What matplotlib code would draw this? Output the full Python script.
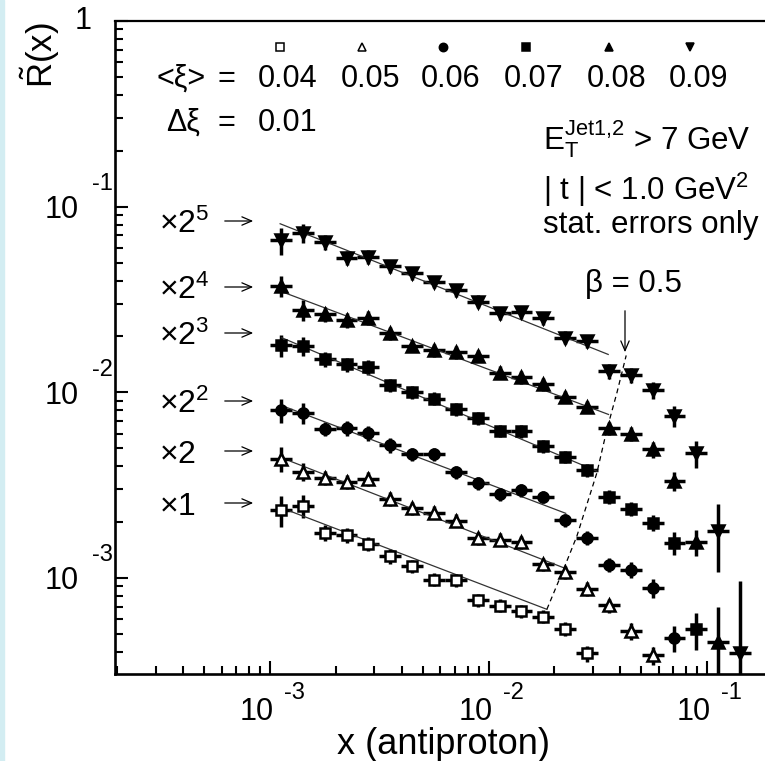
import numpy as np
import matplotlib
matplotlib.use('Agg')
import matplotlib.pyplot as plt
from matplotlib.lines import Line2D
from matplotlib.patches import Rectangle

plt.rcParams['font.family'] = ['Liberation Sans', 'DejaVu Sans']
plt.rcParams['mathtext.fontset'] = 'custom'
plt.rcParams['mathtext.rm'] = 'Liberation Sans'
plt.rcParams['mathtext.it'] = 'Liberation Sans:italic'
plt.rcParams['mathtext.sf'] = 'Liberation Sans'

# bin edges in x (antiproton), ten bins per decade
x_edges = [0.00100, 0.00126, 0.00158, 0.00200, 0.00251, 0.00316, 0.00398, 0.00501,
           0.00631, 0.00794, 0.0100, 0.0126, 0.0158, 0.0200, 0.0251, 0.0316,
           0.0398, 0.0501, 0.0631, 0.0794, 0.100, 0.126, 0.158]

xi_labels = ['0.04', '0.05', '0.06', '0.07', '0.08', '0.09']
scale_labels = ['1', '2', '2^{2}', '2^{3}', '2^{4}', '2^{5}']
markers = ['s', '^', 'o', 's', '^', 'v']
filled = [False, False, True, True, True, True]

# R~(x) as drawn (already multiplied by the factor of each row)
r_x1 = [2.31e-3, 2.44e-3, 1.75e-3, 1.70e-3, 1.53e-3, 1.31e-3, 1.16e-3, 9.8e-4,
        9.75e-4, 7.6e-4, 7.1e-4, 6.63e-4, 6.19e-4, 5.33e-4, 3.93e-4]
r_x2 = [4.39e-3, 3.73e-3, 3.47e-3, 3.30e-3, 3.43e-3, 2.67e-3, 2.38e-3, 2.25e-3,
        2.04e-3, 1.64e-3, 1.61e-3, 1.56e-3, 1.19e-3, 1.08e-3, 8.75e-4, 7.11e-4,
        5.18e-4, 3.83e-4]
r_x4 = [8.02e-3, 7.76e-3, 6.37e-3, 6.39e-3, 6.01e-3, 5.20e-3, 4.66e-3, 4.63e-3,
        3.72e-3, 3.23e-3, 2.82e-3, 2.97e-3, 2.74e-3, 2.05e-3, 1.65e-3, 1.18e-3,
        1.11e-3, 8.87e-4, 4.77e-4]
r_x8 = [1.796e-2, 1.774e-2, 1.504e-2, 1.413e-2, 1.367e-2, 1.089e-2, 1.005e-2,
        9.24e-3, 8.09e-3, 7.26e-3, 6.21e-3, 6.18e-3, 5.13e-3, 4.50e-3, 3.81e-3,
        2.74e-3, 2.36e-3, 1.99e-3, 1.55e-3, 5.29e-4]
r_x16 = [3.73e-2, 2.79e-2, 2.63e-2, 2.45e-2, 2.52e-2, 2.08e-2, 1.782e-2, 1.682e-2,
         1.640e-2, 1.574e-2, 1.276e-2, 1.211e-2, 1.103e-2, 9.47e-3, 8.36e-3,
         6.39e-3, 5.98e-3, 4.93e-3, 3.33e-3, 1.56e-3, 4.52e-4]
r_x32 = [6.60e-2, 7.23e-2, 6.44e-2, 5.31e-2, 5.37e-2, 4.77e-2, 4.38e-2, 3.94e-2,
         3.56e-2, 3.08e-2, 2.68e-2, 2.70e-2, 2.52e-2, 1.97e-2, 1.89e-2, 1.30e-2,
         1.233e-2, 1.028e-2, 7.45e-3, 4.69e-3, 1.79e-3, 3.93e-4]

# relative stat. errors, percent
e_x1 = [19, 14, 10, 9, 9, 9, 8, 8, 8, 8, 8, 8, 8, 9, 10]
e_x2 = [15, 11, 9, 9, 9, 9, 8, 8, 8, 8, 8, 8, 8, 8, 9, 9, 10, 11]
e_x4 = [15, 13, 9, 9, 9, 9, 8, 8, 8, 8, 8, 8, 8, 8, 9, 9, 10, 12, 16]
e_x8 = [14, 12, 9, 9, 9, 8, 8, 8, 8, 8, 8, 8, 8, 8, 8, 9, 9, 10, 14, 23]
e_x16 = [13, 13, 9, 9, 9, 8, 8, 8, 8, 8, 8, 8, 8, 8, 8, 8, 9, 10, 12, 16, 54]
e_x32 = [17, 12, 9, 9, 9, 8, 8, 8, 8, 8, 8, 8, 8, 8, 8, 9, 9, 10, 13, 17, 40, 145]

# power-law fits (beta < 0.5): start and end points
fit_x0 = [1.234e-3, 1.234e-3, 1.147e-3, 1.131e-3, 1.111e-3, 1.111e-3]
fit_x1 = [1.846e-2, 2.200e-2, 2.252e-2, 3.128e-2, 3.534e-2, 3.523e-2]
fit_y0 = [2.291e-3, 4.26e-3, 8.43e-3, 1.968e-2, 3.51e-2, 8.09e-2]
fit_y1 = [6.78e-4, 1.136e-3, 2.23e-3, 3.76e-3, 7.60e-3, 1.600e-2]

# beta = 0.5 boundary
beta_x = [1.846e-2, 2.200e-2, 2.533e-2, 3.128e-2, 3.475e-2, 3.862e-2, 4.258e-2]
beta_y = [6.78e-4, 1.112e-3, 1.682e-3, 3.69e-3, 6.31e-3, 9.95e-3, 1.58e-2]

series = [(r_x1, e_x1), (r_x2, e_x2), (r_x4, e_x4),
          (r_x8, e_x8), (r_x16, e_x16), (r_x32, e_x32)]

W, H = 765, 761
fig = plt.figure(figsize=(W / 100, H / 100), dpi=100)
fig.patch.set_facecolor('white')
fig.add_artist(Rectangle((0, 0), 4 / W, 1, transform=fig.transFigure,
                         color='#d3edf2', zorder=0))


def fp(x, y):
    # picture pixels -> figure fraction
    return x / W, 1 - y / H


ax = fig.add_axes([115 / W, 1 - 674 / H, (773 - 115) / W, (674 - 21) / H])
ax.set_xscale('log')
ax.set_yscale('log')

edges = np.array(x_edges)
centers = np.sqrt(edges[:-1] * edges[1:])

for i, (r, e) in enumerate(series):
    n = len(r)
    xc = centers[:n]
    y = np.array(r)
    err = y * np.array(e) / 100.0
    lo = np.minimum(err, 0.999 * y)
    ax.errorbar(xc, y, xerr=[xc - edges[:n], edges[1:n + 1] - xc], yerr=[lo, err],
                fmt='none', ecolor='black', elinewidth=2.5, capsize=0, zorder=2)
    ax.plot(xc, y, ls='none', marker=markers[i], ms=8.2 if markers[i] in '^v' else 7.3,
            mfc='black' if filled[i] else 'white', mec='black', mew=1.8, zorder=4)
    ax.plot([fit_x0[i], fit_x1[i]], [fit_y0[i], fit_y1[i]], color='#333333',
            lw=0.9, zorder=3)

ax.plot(beta_x, beta_y, color='black', lw=0.9, ls=(0, (4, 3)), zorder=3)

ax.set_xlim(1.95e-4, 0.2)
ax.set_ylim(3.04e-4, 1)

ax.tick_params(which='both', direction='in', top=False, right=False,
               labelbottom=False, labelleft=False, color='black')
ax.tick_params(which='major', length=9.5, width=1.5)
ax.tick_params(which='minor', length=5.5, width=1.5)
ax.spines['right'].set_visible(False)
ax.spines['top'].set_linewidth(1.6)
ax.spines['left'].set_linewidth(1.9)
ax.spines['bottom'].set_linewidth(1.9)

# tick labels, ROOT style: "10" with raised exponent
for tick_px, ex in [(270, '-3'), (488.5, '-2'), (707, '-1')]:
    fig.text(*fp(tick_px - 13, 712), '10', ha='center', va='center', fontsize=22)
    fig.text(*fp(tick_px + 14, 693), ex, ha='left', va='center', fontsize=17)
for tick_px, ex in [(207, '-1'), (392.5, '-2'), (578, '-3')]:
    fig.text(*fp(62, tick_px + 3), '10', ha='center', va='center', fontsize=22)
    fig.text(*fp(92, tick_px - 23), ex, ha='left', va='center', fontsize=17)
fig.text(*fp(83, 21), '1', ha='center', va='center', fontsize=22)

fig.text(*fp(443, 744), 'x (antiproton)', ha='center', va='center', fontsize=26)
fig.text(*fp(40, 22), r'$\tilde{\mathrm{R}}\mathrm{(x)}$', ha='center', va='top',
         rotation=90, fontsize=25)

# <xi> row with marker key
fig.text(*fp(157, 87), '<ξ>', ha='left', va='baseline', fontsize=22)
fig.text(*fp(226, 87), '=', ha='center', va='baseline', fontsize=22)
fig.text(*fp(166, 131), 'Δξ', ha='left', va='baseline', fontsize=22)
fig.text(*fp(226, 131), '=', ha='center', va='baseline', fontsize=22)
fig.text(*fp(288, 131), '0.01', ha='center', va='baseline', fontsize=22)
key_x = [288, 370, 451, 534, 617, 698]
for i, lab in enumerate(xi_labels):
    fig.text(*fp(key_x[i], 87), lab, ha='center', va='baseline', fontsize=22)
    fig.add_artist(Line2D([(key_x[i] - 8) / W], [1 - 47 / H], transform=fig.transFigure,
                          ls='none', marker=markers[i], ms=6,
                          mfc='black' if filled[i] else 'white', mec='black', mew=1.1))

# cuts
fig.text(*fp(543, 150), r'$\mathrm{E_T^{Jet1{,}2}}$ > 7 GeV', ha='left',
         va='baseline', fontsize=22.5)
fig.text(*fp(543, 200), r'| t | < 1.0 GeV$^\mathrm{2}$', ha='left', va='baseline',
         fontsize=22.5)
fig.text(*fp(543, 233), 'stat. errors only', ha='left', va='baseline', fontsize=22.5)
fig.text(*fp(585, 292), 'β = 0.5', ha='left', va='baseline', fontsize=22.5)
ax.annotate('', xy=(625, H - 355), xytext=(625, H - 308), xycoords='figure pixels',
            textcoords='figure pixels',
            arrowprops=dict(arrowstyle='->,head_length=0.7,head_width=0.3', lw=0.9,
                            color='black'))

# row factors
row_y = [503, 451, 401, 333, 287, 221]
for i, lab in enumerate(scale_labels):
    fig.text(*fp(159, row_y[i] + 12), r'$\mathrm{\times' + lab + '}$', ha='left',
             va='baseline', fontsize=23)
    ax.annotate('', xy=(256, H - row_y[i]), xytext=(222, H - row_y[i]),
                xycoords='figure pixels', textcoords='figure pixels',
                arrowprops=dict(arrowstyle='->,head_length=0.7,head_width=0.3', lw=0.9,
                                color='black'))

fig.savefig('out.png', dpi=100)
